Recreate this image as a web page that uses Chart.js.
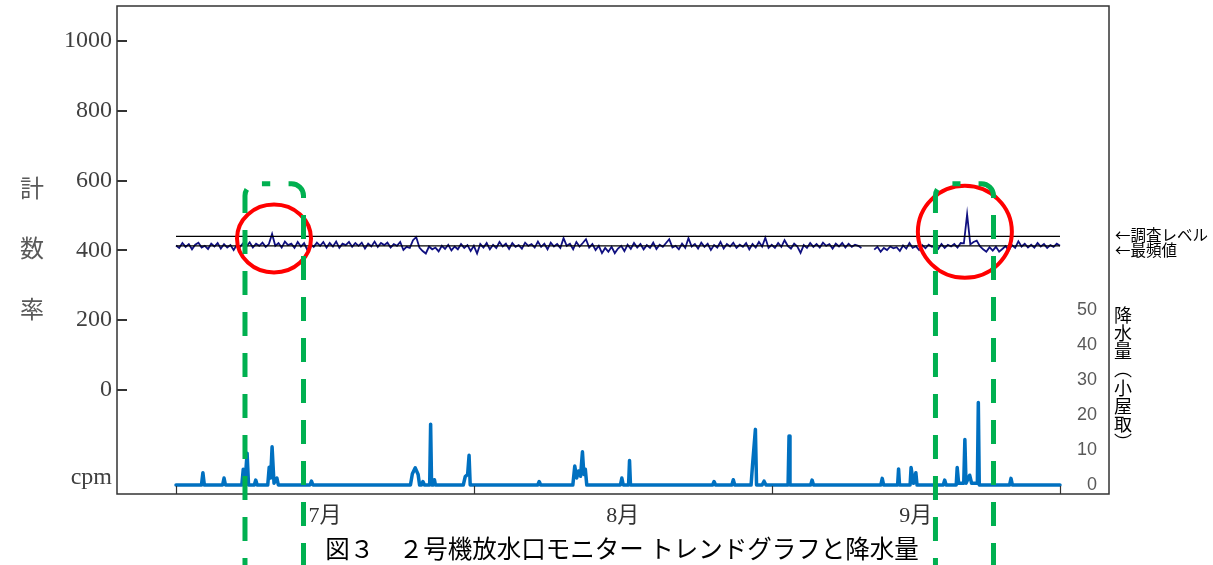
<!DOCTYPE html>
<html lang="ja">
<head>
<meta charset="utf-8">
<title>図3 2号機放水口モニター トレンドグラフと降水量</title>
<script src="https://cdn.jsdelivr.net/npm/chart.js@4.4.1/dist/chart.umd.min.js"></script>
<style>
  html, body { margin: 0; padding: 0; background: #fff; }
  canvas { display: block; }
</style>
</head>
<body>
<canvas id="trend" width="1213" height="565"></canvas>
<script>
// ── Data ────────────────────────────────────────────────
// 計数率 (cpm), 3 samples a day from 7/1 0:00, null = 欠測
const samplesPerDay = 3;
const countRate = [
  414, 407, 421,  410, 418, 403,  416, 422, 408,  413, 404, 419,  411, 421, 405,
  418, 408, 415,  401, 416, 410,  421, 411, 423,  408, 419, 413,  422, 410, 418,
  447, 413, 421,  408, 425, 415,  419, 407, 424,  411, 421, 401,  418, 410, 422,
  413, 424, 408,  421, 411, 425,  407, 419, 415,  424, 410, 421,  413, 422, 405,
  419, 411, 425,  410, 421, 415,  422, 408, 418,  413, 424, 401,  410, 407, 429,
  438, 408, 398,  391, 411, 403,  408, 397, 413,  404, 416, 400,  411, 403, 418,
  407, 415, 398,  413, 391, 418,  408, 421, 403,  416, 407, 424,  411, 419, 404,
  421, 410, 415,  405, 422, 413,  418, 408, 425,  410, 419, 403,  422, 411, 418,
  407, 435, 413,  419, 403, 424,  411, 421, 432,  408, 418, 401,  413, 392, 407,
  396, 410, 392,  405, 413, 398,  416, 404, 421,  408, 418, 403,  415, 407, 422,
  404, 416, 410,  421, 432, 408,  413, 403, 419,  407, 435, 411,  418, 405, 422,
  410, 419, 401,  415, 408, 424,  405, 418, 411,  422, 407, 416,  410, 421, 403,
  418, 408, 424,  411, 436, 407,  416, 407, 421,  410, 429, 413,  405, 419, 411,
  393, 415, 407,  421, 410, 418,  408, 422, 413,  418, 405, 419,  411, 421, 408,
  419, 410, 416,  413, 407, null, null, null, 402,  410, 396, 407,  401, 411, 406,
  409, 398, 414,  405, 421, 407,  412, 401, 415,  406, 416, 410,  413, 404, 418,
  407, 416, 411,  418, 408, 421,  420, 503, 417,  424, 428, 412,  403, 396, 409,
  399, 410, 396,  404, 412, 400,  415, 407, 426,  411, 419, 408,  416, 408, 421,
  411, 418, 407,  415, 410, 419,  413
];
const surveyLevel = 440;   // 調査レベル
const modeValue   = 413;   // 最頻値

// 降水量 (mm, 小屋取): day since 7/1 and value
const rainDays = [
  0,
  2.65, 2.8, 2.95,  4.85, 5.0, 5.15,  6.85, 7.0, 7.2, 7.4, 7.55,  8.15, 8.3, 8.45,
  9.55, 9.7, 9.85, 10.0, 10.2, 10.5, 10.65,  13.95, 14.1, 14.25,
  24.4, 24.6, 24.9, 25.2, 25.35,  25.55, 25.7, 25.85,  26.4, 26.5, 26.6,  26.8, 26.9, 27.0,
  29.9, 30.1, 30.35, 30.5, 30.62,  37.65, 37.8, 37.95,
  41.3, 41.5, 41.7, 41.9, 42.1, 42.3, 42.45, 42.6, 42.75,
  46.25, 46.4, 46.55,  47.1, 47.2, 47.3,  55.85, 56.0, 56.15,  57.85, 58.0, 58.15,
  59.85, 60.0, 60.3, 60.42,  61.0, 61.2, 61.4,  63.7, 63.8, 63.9,  66.05, 66.2, 66.35,
  73.35, 73.5, 73.65,  75.1, 75.2, 75.3,  76.4, 76.5, 76.75, 77.0, 77.12,
  79.85, 80.0, 80.15,
  81.2, 81.3, 81.45, 81.98, 82.1, 82.22, 82.6, 82.8, 83.4, 83.5, 83.6,
  86.75, 86.9, 87.05,
  92
];
const rainMm = [
  0,
  0, 3.5, 0,  0, 2.0, 0,  0, 4.5, 1.5, 9.1, 0,  0, 1.4, 0,
  0, 5.1, 2.0, 10.9, 0.5, 2.0, 0,  0, 1.1, 0,
  0, 3.2, 4.9, 3.0, 0,  0, 1.0, 0,  0, 17.4, 0,  0, 1.5, 0,
  0, 2.4, 3.0, 8.5, 0,  0, 1.0, 0,
  0, 5.4, 2.0, 4.0, 2.5, 9.5, 3.0, 4.5, 0,
  0, 2.0, 0,  0, 7.0, 0,  0, 1.0, 0,  0, 1.5, 0,
  0, 5.7, 15.9, 0,  0, 1.1, 0,  0, 14.0, 0,  0, 1.4, 0,
  0, 1.9, 0,  0, 4.6, 0,  0, 5.0, 0.5, 3.5, 0,
  0, 1.4, 0,
  0, 5.0, 0.5, 0.5, 13.0, 0.5, 2.8, 0.5, 0.5, 23.6, 0,
  0, 1.9, 0,
  0
];

// axes
const monthEdges   = [0, 31, 62, 92];
const monthCenters = [15.5, 46.5, 77];
const monthLabels  = ["7月", "8月", "9月"];
const countTicks   = [0, 200, 400, 600, 800, 1000];
const rainTicks    = [0, 10, 20, 30, 40, 50];

// ── Highlight marks (circles and dashed brackets) ──────
const marks = {
  circles:  [{ day: 10.2, value: 434, rx: 37, ry: 34 }, { day: 82.1, value: 453, rx: 47, ry: 46 }],
  brackets: [{ from: 7.18, to: 13.27 }, { from: 79.04, to: 85.08 }],
  bracketTop: 591
};

const serif = '"Liberation Serif", "Noto Sans CJK JP"';
const gothic = '"Noto Sans CJK JP", "Noto Sans"';

// ── Overlay plugin: frame, inner ticks, side notes, title ──
const overlay = {
  id: "overlay",
  afterDraw(chart) {
    const { ctx, chartArea: a, scales: { x, y } } = chart;
    const H = chart.height;
    ctx.save();

    // frame
    ctx.strokeStyle = "#333";
    ctx.lineWidth = 1.5;
    ctx.strokeRect(a.left, a.top, a.right - a.left, a.bottom - a.top);

    // inner tick marks
    ctx.lineWidth = 2;
    countTicks.forEach((v) => {
      const py = Math.round(y.getPixelForValue(v));
      ctx.beginPath(); ctx.moveTo(a.left, py); ctx.lineTo(a.left + 10, py); ctx.stroke();
    });
    ctx.lineWidth = 1.2;
    monthEdges.forEach((d) => {
      const px = Math.round(x.getPixelForValue(d)) + 0.5;
      ctx.beginPath(); ctx.moveTo(px, a.bottom); ctx.lineTo(px, a.bottom - 8); ctx.stroke();
    });

    // left title, one char per row
    ctx.fillStyle = "#595959";
    ctx.font = "24px " + gothic;
    ctx.textAlign = "center";
    ctx.textBaseline = "middle";
    [["計", 188], ["数", 248], ["率", 309]].forEach(([c, py]) => ctx.fillText(c, 32, py));

    // notes at the level lines
    ctx.fillStyle = "#000";
    ctx.textAlign = "left";
    ctx.font = "15.5px " + gothic;
    ctx.fillText("←調査レベル", a.right + 6, y.getPixelForValue(surveyLevel) - 1);
    ctx.fillText("←最頻値", a.right + 6, y.getPixelForValue(modeValue) + 4);

    // right axis title, vertical
    ctx.textAlign = "center";
    ctx.font = "18px " + gothic;
    Array.from("降水量︵小屋取︶").forEach((c, i) => ctx.fillText(c, a.right + 14, 315 + i * 18.2));

    // figure caption
    ctx.font = "24.5px " + gothic;
    ctx.fillText("図３　２号機放水口モニター トレンドグラフと降水量", 622, 549);

    // red circles
    ctx.strokeStyle = "#ff0000";
    ctx.lineWidth = 4;
    marks.circles.forEach((c) => {
      ctx.beginPath();
      ctx.ellipse(x.getPixelForValue(c.day), y.getPixelForValue(c.value), c.rx, c.ry, 0, 0, Math.PI * 2);
      ctx.stroke();
    });

    // green dashed brackets
    ctx.strokeStyle = "#00b050";
    ctx.lineWidth = 5;
    ctx.setLineDash([24, 17]);
    const top = y.getPixelForValue(marks.bracketTop);
    const r = 12;
    marks.brackets.forEach((b) => {
      const xl = x.getPixelForValue(b.from);
      const xr = x.getPixelForValue(b.to);
      const xm = (xl + xr) / 2;
      ctx.beginPath();
      ctx.moveTo(xl, H + 17);
      ctx.lineTo(xl, top + r);
      ctx.arcTo(xl, top, xl + r, top, r);
      ctx.lineTo(xm - 4, top);
      ctx.stroke();
      ctx.beginPath();
      ctx.moveTo(xr, H + 2);
      ctx.lineTo(xr, top + r);
      ctx.arcTo(xr, top, xr - r, top, r);
      ctx.lineTo(xm + 4, top);
      ctx.stroke();
    });
    ctx.restore();
  }
};

// ── Chart ───────────────────────────────────────────────
const lastDay = monthEdges[monthEdges.length - 1];
const countPoints = countRate.map((v, i) => ({ x: i / samplesPerDay, y: v }));
const rainPoints  = rainDays.map((d, i) => ({ x: d, y: rainMm[i] }));
const noPad = (s) => { s.paddingTop = 0; s.paddingBottom = 0; s.paddingLeft = 0; s.paddingRight = 0; };

new Chart(document.getElementById("trend").getContext("2d"), {
  type: "line",
  data: {
    datasets: [
      {
        label: "調査レベル",
        data: [{ x: 0, y: surveyLevel }, { x: lastDay, y: surveyLevel }],
        borderColor: "#000", borderWidth: 1.2, pointRadius: 0, yAxisID: "y", order: 0
      },
      {
        label: "最頻値",
        data: [{ x: 0, y: modeValue }, { x: lastDay, y: modeValue }],
        borderColor: "#000", borderWidth: 1.2, pointRadius: 0, yAxisID: "y", order: 0
      },
      {
        label: "計数率",
        data: countPoints,
        borderColor: "#101080", borderWidth: 1.8, pointRadius: 0,
        spanGaps: false, yAxisID: "y", order: 1
      },
      {
        label: "降水量",
        data: rainPoints,
        borderColor: "#0070c0", borderWidth: 3.5, pointRadius: 0,
        borderJoinStyle: "round", borderCapStyle: "round", yAxisID: "yR", order: 2
      }
    ]
  },
  options: {
    responsive: false,
    animation: false,
    layout: { padding: { top: 6, right: 104, bottom: 0, left: 0 } },
    plugins: { legend: { display: false }, tooltip: { enabled: false } },
    scales: {
      x: {
        type: "linear", min: -6.14, max: 97.1,
        grid: { display: false, drawTicks: false }, border: { display: false },
        afterBuildTicks: (s) => { s.ticks = monthCenters.map((v) => ({ value: v })); },
        afterFit: (s) => { s.height = 71; noPad(s); },
        ticks: {
          autoSkip: false, maxRotation: 0, padding: 9, color: "#333",
          font: { family: serif, size: 22 },
          callback: (v, i) => monthLabels[i]
        }
      },
      y: {
        position: "left", min: -298, max: 1100,
        grid: { display: false, drawTicks: false }, border: { display: false },
        afterBuildTicks: (s) => { s.ticks = [{ value: -250 }, ...countTicks.map((v) => ({ value: v }))]; },
        afterFit: (s) => { s.width = 117; noPad(s); },
        ticks: {
          padding: 5, color: "#404040",
          font: { family: serif, size: 24 },
          callback: (v) => (v === -250 ? "cpm" : v)
        }
      },
      yR: {
        position: "right", min: -2.57, max: 136.9,
        grid: { display: false, drawTicks: false }, border: { display: false },
        afterBuildTicks: (s) => { s.ticks = rainTicks.map((v) => ({ value: v })); },
        afterFit: (s) => { s.width = 0; noPad(s); },
        ticks: {
          mirror: true, padding: -12, color: "#595959",
          font: { family: '"Liberation Sans", Arial', size: 18 }
        }
      }
    }
  },
  plugins: [overlay]
});
</script>
</body>
</html>
